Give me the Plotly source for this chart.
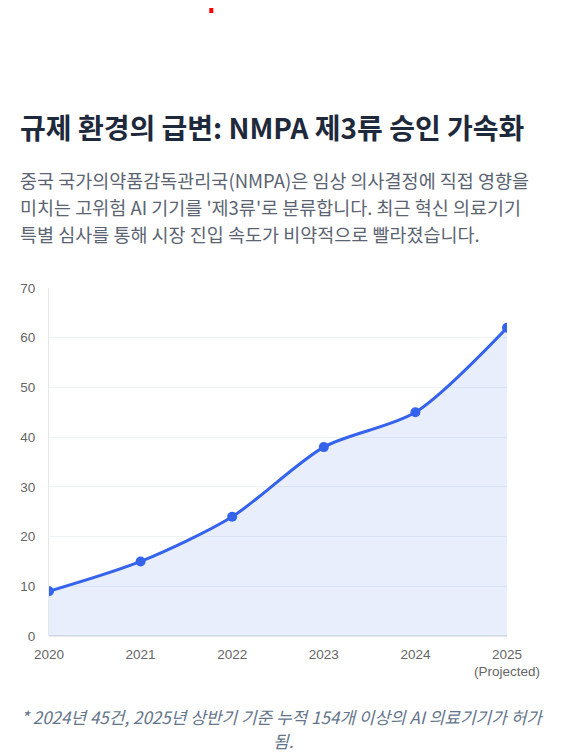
import plotly.graph_objects as go

# NMPA class III AI device approvals per year
years = ["2020", "2021", "2022", "2023", "2024", "2025<br>(Projected)"]
approvals = [9, 15, 24, 38, 45, 62]

title = "규제 환경의 급변: NMPA 제3류 승인 가속화"
subtitle_lines = [
    "중국 국가의약품감독관리국(NMPA)은 임상 의사결정에 직접 영향을",
    "미치는 고위험 AI 기기를 '제3류'로 분류합니다. 최근 혁신 의료기기",
    "특별 심사를 통해 시장 진입 속도가 비약적으로 빨라졌습니다.",
]
footnote_lines = [
    "* 2024년 45건, 2025년 상반기 기준 누적 154개 이상의 AI 의료기기가 허가",
    "됨.",
]

# page body adds 8px margin, so work in page pixels and shift
OFF = 8
W, H = 553, 747
L, R, T, B = 47 - OFF, 54, 288 - OFF, 119
plot_w = W - L - R
plot_h = H - T - B

def px_x(x):
    return (x - OFF - L) / plot_w

def px_y(y):
    return (H - B - (y - OFF)) / plot_h

font = "Noto Sans CJK KR, Noto Sans, sans-serif"
blue = "#3563eb"

fig = go.Figure()
fig.add_trace(go.Scatter(
    x=years, y=approvals,
    mode="lines+markers",
    line=dict(color=blue, width=3, shape="spline", smoothing=0.8),
    marker=dict(color=blue, size=10),
    fill="tozeroy",
    fillcolor="rgba(59,99,235,0.11)",
    hoverinfo="skip",
))

ann = []
ann.append(dict(text="<b>" + title + "</b>", x=px_x(16), y=px_y(127),
                xanchor="left", yanchor="middle",
                font=dict(size=28, color="#1e293b", family=font)))
for i, line in enumerate(subtitle_lines):
    ann.append(dict(text=line, x=px_x(16), y=px_y(180 + 27 * i),
                    xanchor="left", yanchor="middle",
                    font=dict(size=18.5, color="#5b6472", family=font)))
for i, line in enumerate(footnote_lines):
    ann.append(dict(text="<i>" + line + "</i>", x=px_x(282), y=px_y(716 + 24 * i),
                    xanchor="center", yanchor="middle",
                    font=dict(size=17, color="#64748b", family=font)))
for a in ann:
    a.update(xref="paper", yref="paper", showarrow=False)

fig.update_layout(
    width=W, height=H,
    margin=dict(l=L, r=R, t=T, b=B),
    paper_bgcolor="white", plot_bgcolor="white",
    showlegend=False,
    annotations=ann,
    font=dict(family=font),
    shapes=[dict(type="rect", xref="paper", yref="paper",
                 x0=px_x(208), x1=px_x(212), y0=px_y(13), y1=px_y(1),
                 fillcolor="#ff0000", line=dict(width=0))],
)
fig.update_xaxes(
    type="category", range=[0, 5],
    showgrid=False, zeroline=False,
    showline=False,
    ticks="", ticklabelstandoff=8,
    tickfont=dict(size=13.5, color="#666666", family="Liberation Sans, Arial, sans-serif"),
)
fig.update_yaxes(
    range=[0, 70], dtick=10,
    showgrid=True, gridcolor="#eef3f8", gridwidth=1,
    zeroline=True, zerolinecolor="#e5e7eb",
    showline=True, linecolor="#e5e7eb",
    ticks="", ticklabelstandoff=10,
    tickfont=dict(size=13.5, color="#666666", family="Liberation Sans, Arial, sans-serif"),
)

fig.write_html("out.html")
